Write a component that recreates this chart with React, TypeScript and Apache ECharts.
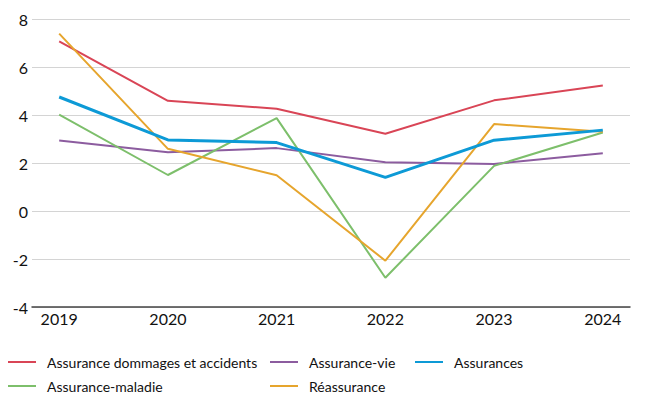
import React, { useEffect, useRef } from "react";
import * as echarts from "echarts";

const years = [2019, 2020, 2021, 2022, 2023, 2024];
const yTicks = [-4, -2, 0, 2, 4, 6, 8];

const dommages = [7.07, 4.59, 4.26, 3.22, 4.61, 5.23];
const vie = [2.94, 2.45, 2.62, 2.03, 1.96, 2.41];
const assurances = [4.75, 2.96, 2.85, 1.4, 2.95, 3.37];
const maladie = [4.02, 1.5, 3.87, -2.78, 1.88, 3.27];
const reassurance = [7.39, 2.59, 1.49, -2.07, 3.62, 3.3];

const seriesNames = [
  "Assurance dommages et accidents",
  "Assurance-vie",
  "Assurances",
  "Assurance-maladie",
  "Réassurance",
];

// legend slots: [left, top] for each series name, laid out as a 3-column table
const legendSlots: [number, number][] = [
  [8, 355],
  [270, 355],
  [415, 355],
  [8, 379],
  [270, 379],
];

const FONT = "Lato";

const pairs = (vals: number[]) => years.map((y, i) => [y, vals[i]]);

export default function App() {
  const ref = useRef<HTMLDivElement>(null);
  useEffect(() => {
    if (!ref.current) return;
    const chart = echarts.init(ref.current, null, { renderer: "svg" });
    const thin = (name: string, data: number[], color: string) => ({
      name,
      type: "line",
      data: pairs(data),
      symbol: "none",
      color,
      lineStyle: { width: 2, color },
      z: 2,
    });
    const legends = seriesNames.map((name, i) => ({
      left: legendSlots[i][0],
      top: legendSlots[i][1],
      padding: 0,
      itemWidth: 28,
      itemHeight: 12,
      icon: "path://M0,5 L28,5 L28,7 L0,7 Z",
      data: [name],
      textStyle: {
        fontFamily: FONT,
        fontSize: 14,
        lineHeight: 14,
        color: "#111",
        padding: [0, 0, 0, 6],
      },
    }));
    chart.setOption({
      animation: false,
      textStyle: { fontFamily: FONT },
      grid: { left: 32, right: 22, top: 19, bottom: 87, containLabel: false },
      legend: legends,
      xAxis: {
        type: "value",
        min: 2018.75,
        max: 2024.25,
        splitLine: { show: false },
        axisLine: { show: true, onZero: false, lineStyle: { color: "#444", width: 1.5 } },
        axisTick: { show: false },
        axisLabel: {
          customValues: years,
          formatter: (v: number) => String(v),
          fontFamily: FONT,
          fontSize: 16,
          color: "#111",
          margin: 3,
        },
      },
      yAxis: {
        type: "value",
        min: -4,
        max: 8,
        interval: 2,
        axisLine: { show: false },
        axisTick: { show: false },
        splitLine: { lineStyle: { color: "#d4d4d4", width: 1 } },
        axisLabel: {
          customValues: yTicks,
          fontFamily: FONT,
          fontSize: 16,
          color: "#111",
          margin: 4,
        },
      },
      series: [
        thin(seriesNames[0], dommages, "#d94556"),
        thin(seriesNames[1], vie, "#8c5c9f"),
        thin(seriesNames[3], maladie, "#7dbf6b"),
        thin(seriesNames[4], reassurance, "#e6a52d"),
        {
          name: seriesNames[2],
          type: "line",
          data: pairs(assurances),
          symbol: "none",
          color: "#0d9ad6",
          lineStyle: { width: 3, color: "#0d9ad6" },
          z: 3,
          label: {
            show: true,
            position: "top",
            distance: 2,
            fontFamily: FONT,
            fontSize: 13,
            color: "#111",
            formatter: (p: any) => p.value[1].toFixed(2),
          },
        },
      ],
    });
    return () => chart.dispose();
  }, []);
  return (
    <div
      ref={ref}
      style={{ width: 652, height: 394, position: "absolute", left: 0, top: 0 }}
    />
  );
}
